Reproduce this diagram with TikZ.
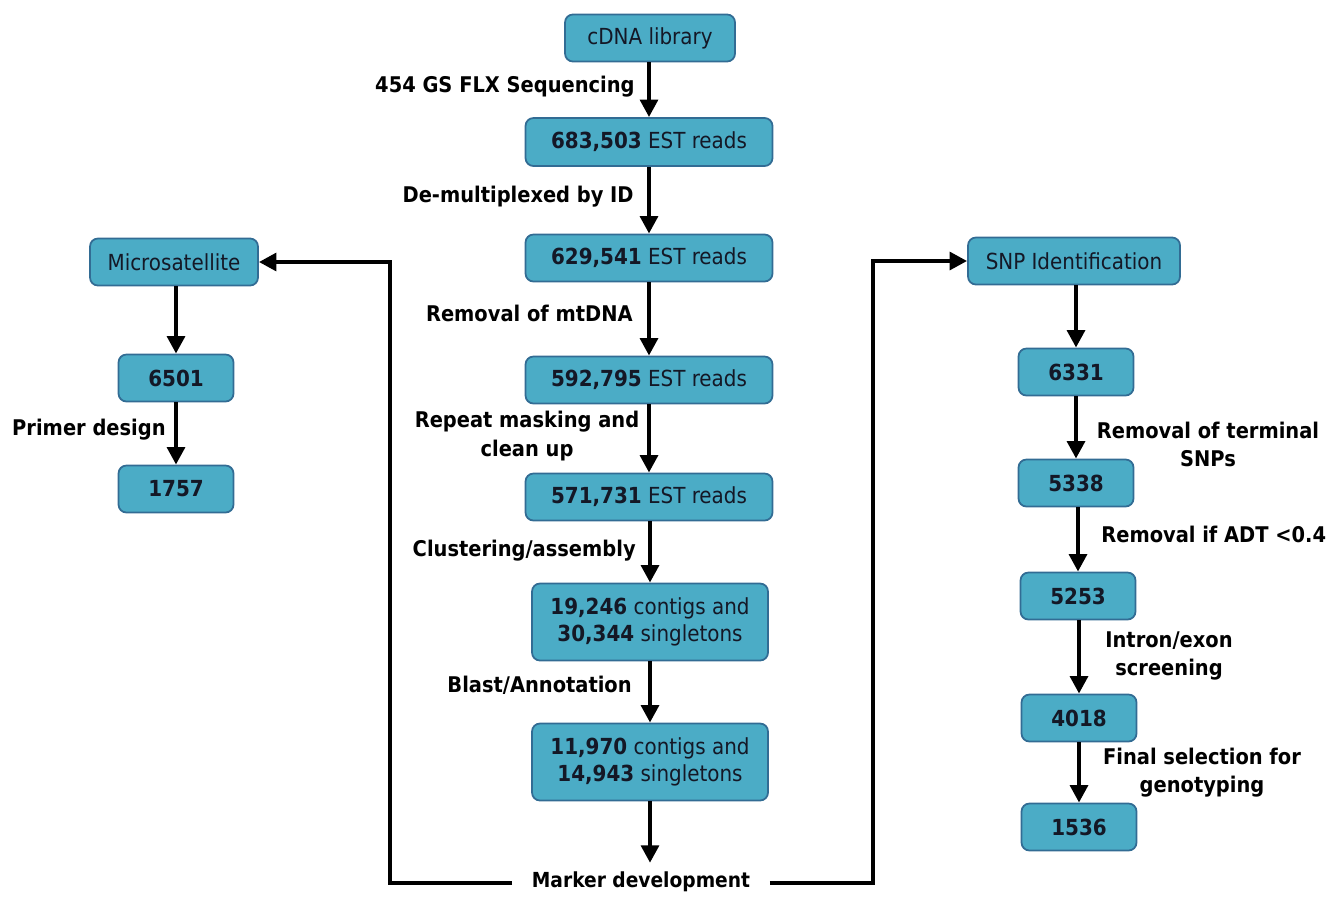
\documentclass[tikz,border=0pt]{standalone}
\usepackage{fontspec}
\setmainfont{DejaVu Sans Condensed}
\usepackage{tikz}
\usetikzlibrary{arrows.meta,positioning}
\definecolor{bleucase}{RGB}{75,172,198}
\definecolor{bordcase}{RGB}{50,108,148}
\definecolor{encre}{RGB}{20,24,38}

\begin{document}
\begin{tikzpicture}[x=0.02cm, y=-0.02cm]
%case : style commun des étapes, etiq : texte des flèches
\tikzset{case/.style={draw=bordcase, fill=bleucase, line width=1pt, rounded corners=4.5pt, text=encre, font=\fontsize{12.6}{15.5}\selectfont, align=center, inner sep=0pt, minimum height=0.94cm},
etiq/.style={font=\bfseries\fontsize{12.3}{16}\selectfont, align=center, inner sep=0pt},
fleche/.style={line width=2.6pt, -{Triangle[width=10pt,length=10pt]}}}
\useasboundingbox (0,0) rectangle (1334,896);
% colonne centrale
\node[case, minimum width=3.4cm] (cdna) at (650,38) {cDNA library};
\node[case, minimum width=4.94cm, minimum height=0.96cm] (est1) at (649,142) {\textbf{683,503} EST reads};
\node[case, minimum width=4.94cm] (est2) at (649,258) {\textbf{629,541} EST reads};
\node[case, minimum width=4.94cm] (est3) at (649,380) {\textbf{592,795} EST reads};
\node[case, minimum width=4.94cm] (est4) at (649,497) {\textbf{571,731} EST reads};
\node[case, minimum width=4.72cm, minimum height=1.54cm] (contig1) at (650,622) {\textbf{19,246} contigs and\\\textbf{30,344} singletons};
\node[case, minimum width=4.72cm, minimum height=1.54cm] (contig2) at (650,762) {\textbf{11,970} contigs and\\\textbf{14,943} singletons};
\node[etiq, font=\bfseries\fontsize{11.8}{16}\selectfont, inner xsep=11pt, inner ysep=3pt] (marker) at (641,882) {Marker development};
% colonne gauche
\node[case, minimum width=3.36cm] (micro) at (174,262) {Microsatellite};
\node[case, minimum width=2.3cm] (ms1) at (176,378) {\textbf{6501}};
\node[case, minimum width=2.3cm] (ms2) at (176,489) {\textbf{1757}};
% colonne droite
\node[case, minimum width=4.24cm] (snp) at (1074,261) {SNP Identification};
\node[case, minimum width=2.3cm] (snp1) at (1076,372) {\textbf{6331}};
\node[case, minimum width=2.3cm] (snp2) at (1076,483) {\textbf{5338}};
\node[case, minimum width=2.3cm] (snp3) at (1078,596) {\textbf{5253}};
\node[case, minimum width=2.3cm] (snp4) at (1079,718) {\textbf{4018}};
\node[case, minimum width=2.3cm] (snp5) at (1079,827) {\textbf{1536}};
% flèches verticales
\foreach \a/\b in {cdna/est1, est1/est2, est2/est3, est3/est4, est4/contig1, contig1/contig2, micro/ms1, ms1/ms2, snp/snp1, snp1/snp2, snp2/snp3, snp3/snp4, snp4/snp5}
  \draw[fleche] (\b.north |- \a.south) -- (\b.north);
\draw[fleche, shorten >=2pt] (contig2.south) -- (contig2.south |- marker.north);
% retours vers les deux branches
\coordinate (coinG) at (390,883);
\coordinate (coinD) at (873,883);
\draw[fleche] (marker.west |- coinG) -- (coinG) |- (micro.east);
\draw[fleche] (marker.east |- coinD) -- (coinD) |- (snp.west);
% étiquettes
\node[etiq, anchor=east] (l1) at (635,87) {454 GS FLX Sequencing};
\node[etiq, anchor=east] (l2) at (634,197) {De-multiplexed by ID};
\node[etiq, anchor=east] (l3) at (633,313) {Removal of mtDNA};
\node[etiq] (l4) at (527,436) {Repeat masking and\\clean up};
\node[etiq, anchor=east] (l5) at (636,551) {Clustering/assembly};
\node[etiq, anchor=east] (l6) at (632,685) {Blast/Annotation};
\node[etiq, anchor=east] (l7) at (166,430) {Primer design};
\node[etiq] (l8) at (1208,444) {Removal of terminal\\SNPs};
\node[etiq, anchor=west] (l9) at (1101,534) {Removal if ADT <0.4};
\node[etiq] (l10) at (1169,656) {Intron/exon\\screening};
\node[etiq] (l11) at (1202,773) {Final selection for\\genotyping};
\end{tikzpicture}
\end{document}
